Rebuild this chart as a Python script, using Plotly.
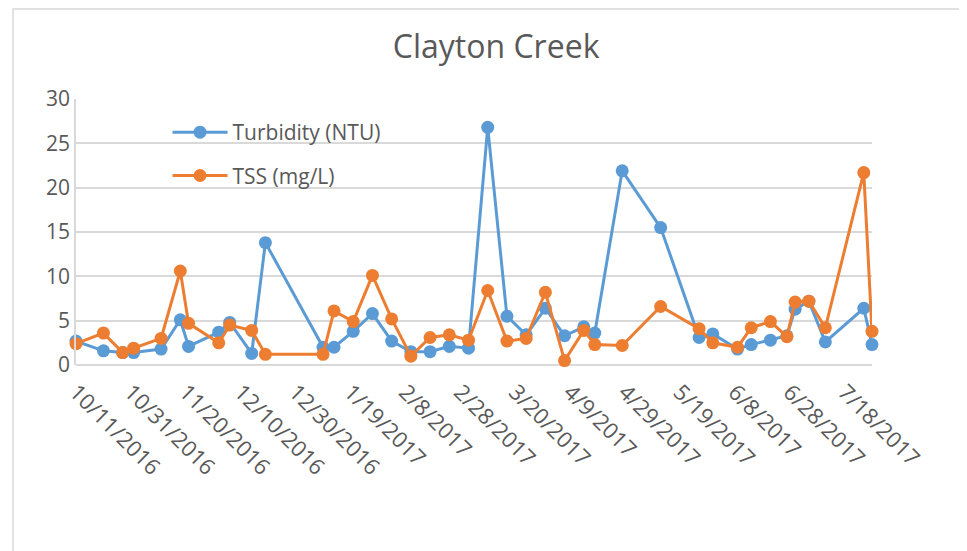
import plotly.graph_objects as go

dates = ["2016-10-11", "2016-10-21", "2016-10-28", "2016-11-01", "2016-11-11",
         "2016-11-18", "2016-11-21", "2016-12-02", "2016-12-06", "2016-12-14",
         "2016-12-19", "2017-01-09", "2017-01-13", "2017-01-20", "2017-01-27",
         "2017-02-03", "2017-02-10", "2017-02-17", "2017-02-24", "2017-03-03",
         "2017-03-10", "2017-03-17", "2017-03-24", "2017-03-31", "2017-04-07",
         "2017-04-14", "2017-04-18", "2017-04-28", "2017-05-12", "2017-05-26",
         "2017-05-31", "2017-06-09", "2017-06-14", "2017-06-21", "2017-06-27",
         "2017-06-30", "2017-07-05", "2017-07-11", "2017-07-25", "2017-07-28"]

turbidity = [2.7, 1.6, 1.4, 1.4, 1.8, 5.1, 2.1, 3.7, 4.8, 1.3,
             13.8, 2.0, 2.0, 3.8, 5.8, 2.7, 1.5, 1.5, 2.1, 1.9,
             26.8, 5.5, 3.4, 6.4, 3.3, 4.3, 3.6, 21.9, 15.5, 3.1,
             3.5, 1.8, 2.3, 2.8, 3.3, 6.3, 7.2, 2.6, 6.4, 2.3]

tss = [2.4, 3.6, 1.4, 1.9, 3.0, 10.6, 4.7, 2.5, 4.5, 3.9,
       1.2, 1.2, 6.1, 4.9, 10.1, 5.2, 1.0, 3.1, 3.4, 2.8,
       8.4, 2.7, 3.0, 8.2, 0.5, 3.9, 2.3, 2.2, 6.6, 4.1,
       2.5, 2.0, 4.2, 4.9, 3.2, 7.1, 7.2, 4.2, 21.7, 3.8]

tick_dates = ["2016-10-11", "2016-10-31", "2016-11-20", "2016-12-10", "2016-12-30",
              "2017-01-19", "2017-02-08", "2017-02-28", "2017-03-20", "2017-04-09",
              "2017-04-29", "2017-05-19", "2017-06-08", "2017-06-28", "2017-07-18"]
tick_labels = ["10/11/2016", "10/31/2016", "11/20/2016", "12/10/2016", "12/30/2016",
               "1/19/2017", "2/8/2017", "2/28/2017", "3/20/2017", "4/9/2017",
               "4/29/2017", "5/19/2017", "6/8/2017", "6/28/2017", "7/18/2017"]

font_family = "Open Sans, Noto Sans, sans-serif"
grey = "#595959"

fig = go.Figure()

fig.add_trace(go.Scatter(
    x=dates, y=turbidity, name="Turbidity (NTU)", mode="lines+markers",
    line=dict(color="#5B9BD5", width=3), marker=dict(size=13, color="#5B9BD5"),
    cliponaxis=False, legendgroup="a"))

fig.add_trace(go.Scatter(
    x=dates, y=tss, name="TSS (mg/L)", mode="lines+markers",
    line=dict(color="#ED7D31", width=3), marker=dict(size=13, color="#ED7D31"),
    cliponaxis=False, legendgroup="b"))

# page body has an 8px margin, so the figure is placed at (8, 8)
fig.update_layout(
    width=959, height=543,
    margin=dict(l=68, r=95, t=91, b=186),
    paper_bgcolor="white", plot_bgcolor="white",
    font=dict(family=font_family, color=grey, size=20),
    title=dict(text="Clayton Creek", x=0.509, xanchor="center", y=0.928, yanchor="middle",
               font=dict(size=32, color=grey, family=font_family)),
    legend=dict(x=0.115, y=0.951, xanchor="left", yanchor="top",
                font=dict(size=21, color=grey), bgcolor="rgba(0,0,0,0)",
                traceorder="grouped", tracegroupgap=13, itemwidth=55),
    showlegend=True,
)

fig.update_xaxes(
    type="date", range=["2016-10-11", "2017-07-28"],
    tickvals=tick_dates, ticktext=tick_labels, tickangle=45,
    showgrid=False, zeroline=False, showline=False, ticks="",
    tickfont=dict(size=22, color=grey), ticklabelstandoff=9,
)

fig.update_yaxes(
    range=[0, 30], dtick=5, showgrid=True, gridcolor="#d9d9d9", gridwidth=1.5,
    zeroline=True, zerolinecolor="#d9d9d9", zerolinewidth=1.5,
    showline=True, linecolor="#d9d9d9", linewidth=1.5, ticks="",
    tickfont=dict(size=21, color=grey), ticklabelstandoff=0,
)

# outer chart border
fig.add_shape(type="rect", xref="paper", yref="paper",
              x0=-0.0791, x1=1.2, y0=-1.0, y1=1.338,
              line=dict(color="#d9d9d9", width=1.5), layer="below")

fig.write_html("out.html")
